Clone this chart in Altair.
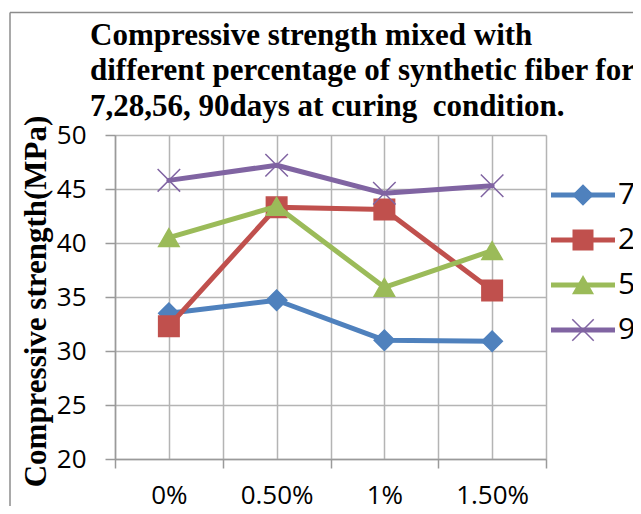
import json
import altair as alt
import pandas as pd

# ---- data ----
categories = ["0%", "0.50%", "1%", "1.50%"]
series_names = ["7", "28", "56", "90"]
days_7 = [33.5, 34.7, 31.0, 30.9]
days_28 = [32.3, 43.3, 43.1, 35.6]
days_56 = [40.5, 43.4, 35.9, 39.3]
days_90 = [45.8, 47.2, 44.6, 45.3]
y_ticks = [20, 25, 30, 35, 40, 45, 50]

series_colors = ["#4F81BD", "#C0504D", "#9BBB59", "#8064A2"]
series_shapes = ["diamond", "square", "triangle-up", "M-1.1,-1.1L1.1,1.1M-1.1,1.1L1.1,-1.1"]

rows = []
for name, vals in zip(series_names, [days_7, days_28, days_56, days_90]):
    for i, (cat, v) in enumerate(zip(categories, vals)):
        rows.append({"series": name, "series_n": int(name), "category": cat, "idx": i, "value": v})
df = pd.DataFrame(rows)
series_nums = [int(s) for s in series_names]

GRID = "#b4b4b4"
AXIS = "#9a9a9a"
SANS = "Open Sans"
SERIF = "Liberation Serif"

x_values = [i * 0.5 - 0.5 for i in range(2 * len(categories) + 1)]
label_expr = "datum.value % 1 === 0 ? " + json.dumps(categories) + "[datum.value] : ''"

x_enc = alt.X(
    "idx:Q",
    scale=alt.Scale(domain=[-0.5, len(categories) - 0.5], nice=False, zero=False),
    axis=alt.Axis(
        values=x_values, labelExpr=label_expr, grid=True, gridColor=GRID, gridWidth=1.5,
        tickSize=9, tickColor=AXIS, tickWidth=1.5,
        tickOpacity={"condition": {"test": "datum.value % 1 !== 0", "value": 1}, "value": 0},
        domainColor=AXIS, domainWidth=1.5, labelFont=SANS, labelFontSize=26,
        labelColor="black", labelPadding=14, labelFlush=False, labelOverlap=False, title=None,
    ),
)
y_enc = alt.Y(
    "value:Q",
    scale=alt.Scale(domain=[20, 50], nice=False, zero=False),
    axis=alt.Axis(
        values=y_ticks, grid=True, gridColor=GRID, gridWidth=1.5, tickSize=10, tickColor=AXIS,
        tickWidth=1.5, domainColor=AXIS, domainWidth=1.5, labelFont=SANS, labelFontSize=26,
        labelColor="black", labelPadding=19, title="Compressive strength(MPa)",
        titleFont=SERIF, titleFontSize=31, titleFontWeight="bold", titleColor="black",
        titleX=-79, titleY=166, titleAngle=270, titleBaseline="middle", titleAlign="center",
    ),
)

line_legend = alt.Legend(
    orient="none", legendX=453, legendY=45, title=None, symbolType="M-4,0H4", symbolSize=256,
    symbolStrokeWidth=5, labelFont=SANS, labelFontSize=30, labelColor="black",
    labelOffset=20, rowPadding=15, padding=0,
)
mark_legend = alt.Legend(
    orient="none", legendX=453, legendY=45, title=None, symbolSize=380, symbolStrokeWidth=1.5,
    labelExpr="''", labelFontSize=30, rowPadding=15, padding=0,
)

color_scale = alt.Scale(domain=series_names, range=series_colors)
mcolor_scale = alt.Scale(domain=series_nums, range=series_colors)
shape_scale = alt.Scale(domain=series_nums, range=series_shapes)

layers = []
for name in series_names:
    base = alt.Chart(df).transform_filter(alt.datum.series == name)
    layers.append(
        base.mark_line(strokeWidth=5, strokeJoin="round", strokeCap="round").encode(
            x=x_enc, y=y_enc,
            color=alt.Color("series:N", scale=color_scale, legend=line_legend),
        )
    )
    layers.append(
        base.mark_point(filled=True, size=420, strokeWidth=1.5, opacity=1).encode(
            x=x_enc, y=y_enc,
            fill=alt.Fill("series_n:N", scale=mcolor_scale, legend=mark_legend),
            stroke=alt.Stroke("series_n:N", scale=mcolor_scale, legend=mark_legend),
            shape=alt.Shape("series_n:N", scale=shape_scale, legend=mark_legend),
        )
    )

frame_df = pd.DataFrame({"f": [0]})
frame_v = alt.Chart(frame_df).mark_rule(color="#8c8c8c", strokeWidth=1.5).encode(
    x=alt.value(-105), y=alt.value(-122.5), y2=alt.value(420)
)
frame_h = alt.Chart(frame_df).mark_rule(color="#8c8c8c", strokeWidth=1.5).encode(
    y=alt.value(-122.5), x=alt.value(-105), x2=alt.value(524)
)

chart = (
    alt.layer(frame_v, frame_h, *layers)
    .properties(
        width=431, height=324,
        title=alt.TitleParams(
            text=["Compressive strength mixed with",
                  "different percentage of synthetic fiber for",
                  "7,28,56, 90days at curing\u00a0 condition."],
            anchor="start", frame="group", font=SERIF, fontSize=31, fontWeight="bold",
            color="black", lineHeight=35.5, dx=-25, dy=111, offset=0,
        ),
        autosize=alt.AutoSizeParams(type="none"),
        padding={"left": 107, "top": 127, "right": 87, "bottom": 47},
    )
    .configure_view(stroke=None)
    .configure(background="white")
)

chart.save("out.html", embed_options={"renderer": "svg", "actions": False})
